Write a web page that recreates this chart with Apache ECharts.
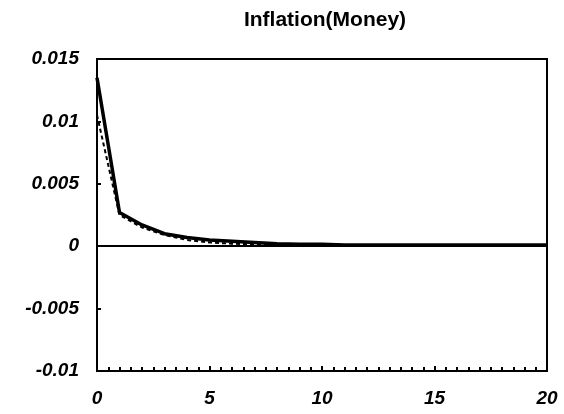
<!DOCTYPE html>
<html>
<head>
<meta charset="utf-8">
<script src="https://cdn.jsdelivr.net/npm/echarts@6/dist/echarts.min.js"></script>
<style>
  html, body { margin: 0; padding: 0; background: #fff; }
  #main { width: 564px; height: 414px; }
</style>
</head>
<body>
<div id="main"></div>
<script>
// periods after the shock
var periods = [0, 1, 2, 3, 4, 5, 6, 7, 8, 9, 10, 11, 12, 13, 14, 15, 16, 17, 18, 19, 20];
// solid response
var solidVals = [0.0135, 0.0027, 0.0017, 0.001, 0.0007, 0.0005, 0.0004, 0.0003, 0.0002, 0.00015, 0.00015,
  0.0001, 0.0001, 0.0001, 0.0001, 0.0001, 0.0001, 0.0001, 0.0001, 0.0001, 0.0001];
// dashed response
var dashVals = [0.0105, 0.0025, 0.0015, 0.0009, 0.0005, 0.0003, 0.0002, 0.00015, 0.0001, 0.0001, 0.0001,
  0.0001, 0.0001, 0.0001, 0.0001, 0.0001, 0.0001, 0.0001, 0.0001, 0.0001, 0.0001];
var xTicks = { min: 0, max: 20, step: 5 };
var yTicks = { min: -0.01, max: 0.015, step: 0.005 };

function pairs(xs, ys) {
  var out = [];
  for (var i = 0; i < xs.length; i++) out.push([xs[i], ys[i]]);
  return out;
}

var chart = echarts.init(document.getElementById('main'));

var labelFont = {
  color: '#000',
  fontFamily: 'Liberation Sans, Arial, sans-serif',
  fontWeight: 'bold',
  fontStyle: 'italic',
  fontSize: 19
};

var option = {
  animation: false,
  title: {
    text: 'Inflation(Money)',
    left: 320,
    textAlign: 'center',
    top: 5,
    textStyle: { color: '#000', fontFamily: 'Liberation Sans, Arial, sans-serif', fontWeight: 'bold', fontSize: 21 }
  },
  grid: {
    left: 97, right: 17, top: 59, bottom: 43,
    show: true, borderColor: '#000', borderWidth: 2, backgroundColor: 'transparent'
  },
  xAxis: {
    type: 'value',
    min: xTicks.min, max: xTicks.max, interval: xTicks.step,
    axisLine: { show: true, onZero: false, lineStyle: { color: '#000', width: 2 } },
    axisTick: { show: true, inside: true, length: 5, lineStyle: { color: '#000', width: 2 } },
    minorTick: { show: true, splitNumber: 10, length: 4, lineStyle: { color: '#000', width: 2 } },
    splitLine: { show: false },
    axisLabel: Object.assign({ margin: 18 }, labelFont)
  },
  yAxis: {
    type: 'value',
    min: yTicks.min, max: yTicks.max, interval: yTicks.step,
    axisLine: { show: true, lineStyle: { color: '#000', width: 2 } },
    axisTick: { show: true, inside: true, length: 4, lineStyle: { color: '#000', width: 2 } },
    splitLine: { show: false },
    axisLabel: Object.assign({ margin: 18 }, labelFont)
  },
  series: [
    {
      type: 'line',
      data: pairs(periods, dashVals),
      symbol: 'none',
      lineStyle: { color: '#000', width: 2, type: [4, 3] },
      z: 2
    },
    {
      type: 'line',
      data: pairs(periods, solidVals),
      symbol: 'none',
      lineStyle: { color: '#000', width: 3.5 },
      z: 3,
      markLine: {
        silent: true,
        symbol: 'none',
        label: { show: false },
        lineStyle: { color: '#000', width: 2, type: 'solid' },
        data: [{ yAxis: 0 }]
      }
    }
  ]
};

chart.setOption(option);
</script>
</body>
</html>
